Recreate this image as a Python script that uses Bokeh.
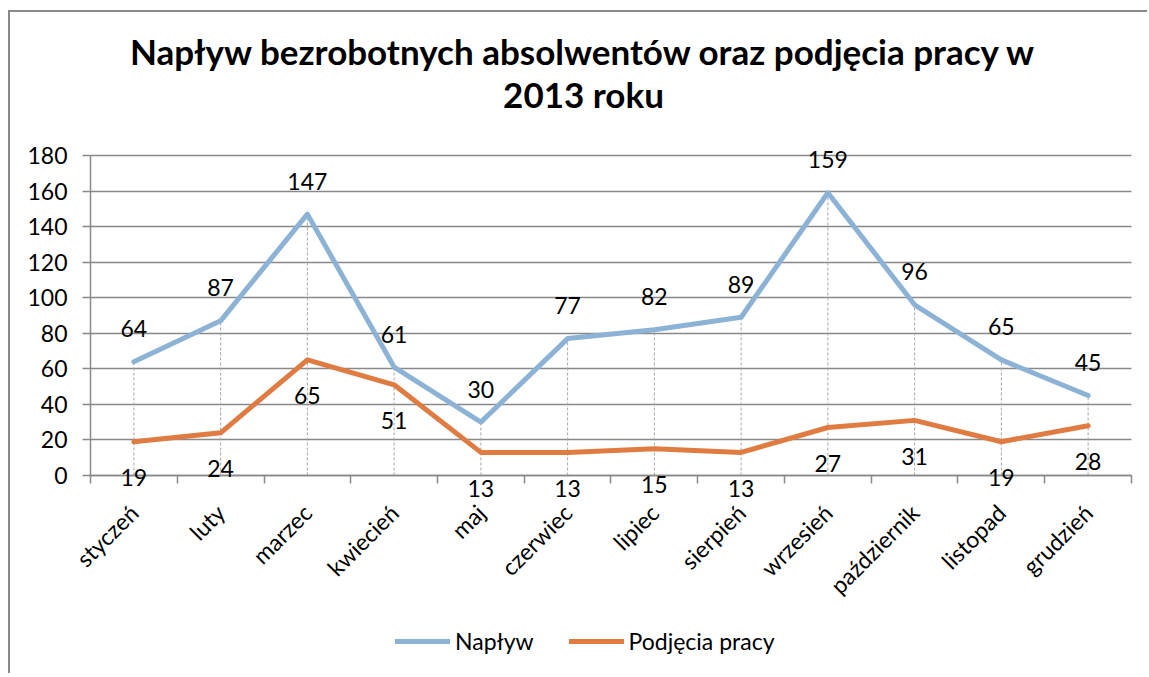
from bokeh.plotting import figure
from bokeh.models import (ColumnDataSource, Range1d, LinearAxis, Grid,
                          FixedTicker, Label, LabelSet, Legend, LegendItem, SingleIntervalTicker)
from bokeh.core.properties import value
from bokeh.embed import file_html
from bokeh.resources import INLINE
import math

months = ["styczeń", "luty", "marzec", "kwiecień", "maj", "czerwiec", "lipiec",
          "sierpień", "wrzesień", "październik", "listopad", "grudzień"]
naplyw = [64, 87, 147, 61, 30, 77, 82, 89, 159, 96, 65, 45]
podjecia = [19, 24, 65, 51, 13, 13, 15, 13, 27, 31, 19, 28]
title_lines = ["Napływ bezrobotnych absolwentów oraz podjęcia pracy w", "2013 roku"]
series_names = ["Napływ", "Podjęcia pracy"]

BLUE = "#8CB3D6"
ORANGE = "#E07C42"
GRID = "#898989"
FONT = "Lato"

idx = list(range(len(months)))            # category positions
bounds_x = [i - 0.5 for i in range(len(months) + 1)]   # category boundaries

src = ColumnDataSource(dict(
    x=idx, n=naplyw, p=podjecia,
    nt=[str(v) for v in naplyw], pt=[str(v) for v in podjecia],
    top=[max(a, b) for a, b in zip(naplyw, podjecia)], zero=[0] * len(months),
))

p = figure(width=1139, height=663, output_backend="svg", toolbar_location=None,
           x_range=Range1d(-1.4222, 11.696), y_range=Range1d(-110.8, 251.4),
           x_axis_location=None, y_axis_location=None,
           min_border_left=0, min_border_right=1, min_border_top=16, min_border_bottom=3)
p.title = None
p.outline_line_color = None
p.background_fill_color = "white"
p.border_fill_color = "white"
p.styles = {"margin-left": "8px", "margin-top": "10px",
            "border-left": "2px solid #898989", "border-top": "2px solid #898989"}
for g in p.grid:
    g.visible = False

# horizontal gridlines
yg = Grid(dimension=1, ticker=SingleIntervalTicker(interval=20), bounds=(0, 180),
          cross_bounds=(bounds_x[0], bounds_x[-1]), grid_line_color=GRID, grid_line_width=1.5)
p.add_layout(yg)

# y axis
ya = LinearAxis(fixed_location=bounds_x[0], bounds=(0, 180),
                ticker=SingleIntervalTicker(interval=20))
ya.axis_line_color = GRID
ya.axis_line_width = 1.5
ya.major_tick_line_color = GRID
ya.major_tick_line_width = 1.5
ya.major_tick_out = 8
ya.major_tick_in = 0
ya.minor_tick_line_color = None
ya.major_label_text_font = FONT
ya.major_label_text_font_size = "23px"
ya.major_label_text_color = "black"
ya.major_label_standoff = 15
p.add_layout(ya, "left")

# x axis line at zero with ticks between categories
bx = LinearAxis(ticker=FixedTicker(ticks=bounds_x), fixed_location=0,
                bounds=(bounds_x[0], bounds_x[-1]))
bx.axis_line_color = GRID
bx.axis_line_width = 1.5
bx.major_tick_line_color = GRID
bx.major_tick_line_width = 1.5
bx.major_tick_out = 8
bx.major_tick_in = 0
bx.minor_tick_line_color = None
bx.major_label_text_font_size = "0px"
bx.major_label_standoff = 0
p.add_layout(bx, "below")

# x axis: category labels
cx = LinearAxis(ticker=FixedTicker(ticks=idx), fixed_location=0,
                major_label_overrides={i: m for i, m in zip(idx, months)})
cx.axis_line_color = None
cx.major_tick_line_color = None
cx.minor_tick_line_color = None
cx.major_tick_out = 0
cx.major_tick_in = 0
cx.major_label_orientation = math.pi / 4
cx.major_label_text_font = FONT
cx.major_label_text_font_size = "23px"
cx.major_label_text_color = "black"
cx.major_label_standoff = 33
p.add_layout(cx, "below")

# drop lines
p.segment(x0="x", y0="zero", x1="x", y1="top", source=src, line_color="#A6A6A6",
          line_width=1, line_dash="3 2")

r1 = p.line(x="x", y="n", source=src, line_color=BLUE, line_width=5, line_join="round",
            line_cap="round")
r2 = p.line(x="x", y="p", source=src, line_color=ORANGE, line_width=5, line_join="round",
            line_cap="round")

l1 = LabelSet(x="x", y="n", text="nt", source=src, y_offset=33, text_align="center",
              text_baseline="middle", text_font=value(FONT), text_font_size=value("23px"),
              text_color="black")
l2 = LabelSet(x="x", y="p", text="pt", source=src, y_offset=-36, text_align="center",
              text_baseline="middle", text_font=value(FONT), text_font_size=value("23px"),
              text_color="black")
p.add_layout(l1)
p.add_layout(l2)

# title (two centred lines)
for txt, yv in zip(title_lines, [238.8, 214.5]):
    p.add_layout(Label(x=5.183, y=yv, text=txt, text_align="center", text_baseline="middle",
                       text_font=FONT, text_font_style="bold", text_font_size="35px",
                       text_color="black"))

legend = Legend(items=[LegendItem(label=series_names[0], renderers=[r1]),
                       LegendItem(label=series_names[1], renderers=[r2])],
                location=(385, 17), orientation="horizontal", border_line_color=None,
                background_fill_alpha=0, padding=0, margin=0, spacing=35,
                glyph_width=55, label_standoff=5, label_text_font=FONT,
                label_text_font_size="23px", label_text_color="black")
p.add_layout(legend, "center")

open("out.html", "w").write(file_html(p, INLINE))
